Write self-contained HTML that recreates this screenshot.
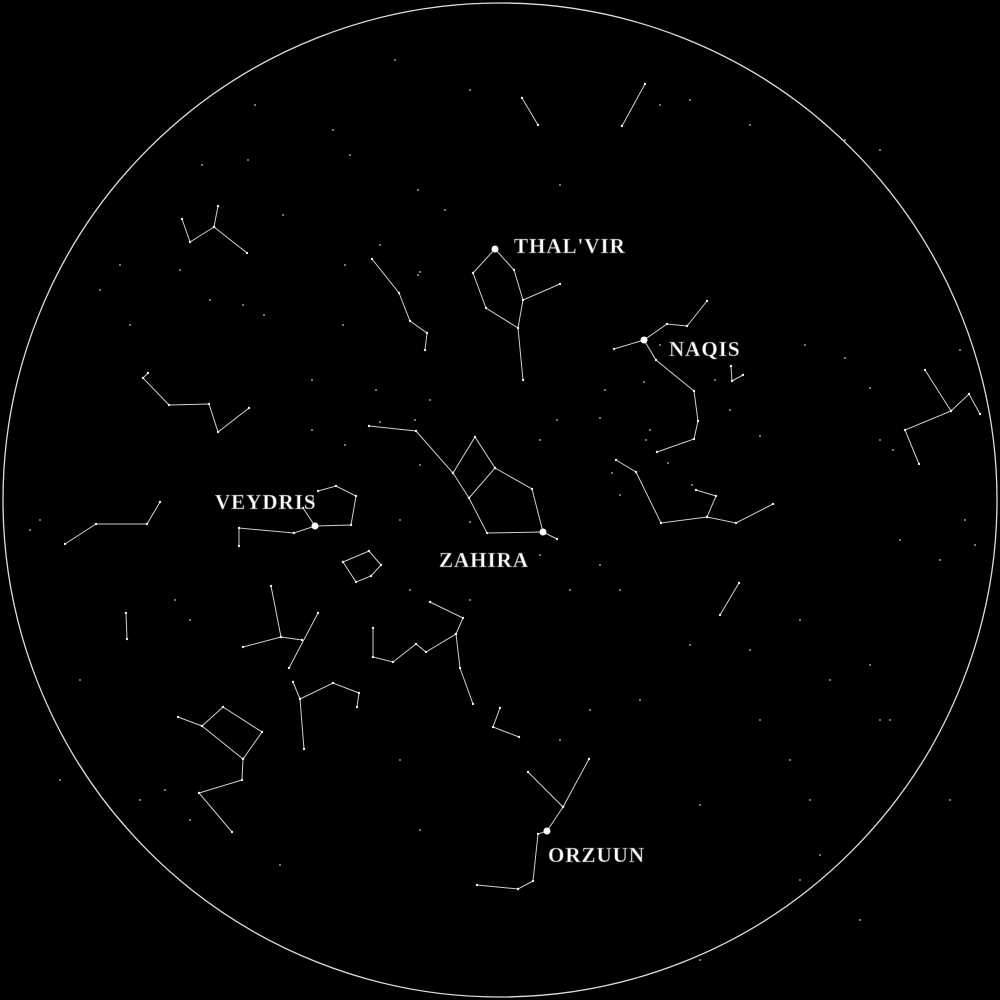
<!DOCTYPE html>
<html><head><meta charset="utf-8"><style>
html,body{margin:0;padding:0;background:#000;width:1000px;height:1000px;overflow:hidden}
svg{display:block}
.lbl{font-family:"Liberation Serif",serif;font-size:21px;font-weight:bold;fill:#fff;stroke:#555;stroke-width:0.6px;letter-spacing:1px}
</style></head><body>
<svg id="chart" width="1000" height="1000" viewBox="0 0 1000 1000">
<rect width="1000" height="1000" fill="#000"/>
<circle cx="500" cy="500" r="497" fill="none" stroke="#ddd" stroke-width="1.3"/>
<g id="lines"></g>
<g id="stars"></g>
<g id="bright"></g>
<g id="labels"></g>
</svg>
<script>
const constellationLines = [
 [[182,219],[190,242],[214,227],[218,206]],
 [[214,227],[247,253]],
 [[372,259],[399,293],[410,321],[427,333],[425,350]],
 [[148,373],[143,378],[169,405],[209,404],[218,432],[249,408]],
 [[160,502],[147,524],[96,524],[65,544]],
 [[239,546],[239,528],[294,533],[315,526],[351,525],[356,496],[336,486],[318,491]],
 [[315,526],[303,508]],
 [[343,562],[369,551],[381,565],[371,576],[356,582],[343,562]],
 [[495,249],[473,273],[486,308],[518,328],[523,380]],
 [[495,249],[514,270],[523,300],[518,328]],
 [[523,300],[560,284]],
 [[614,349],[644,340],[667,324],[687,326],[707,301]],
 [[644,340],[656,360],[694,391],[698,421],[694,439],[657,452]],
 [[731,366],[732,381],[743,375]],
 [[557,539],[543,532],[487,533],[469,498],[453,473],[416,431],[369,426]],
 [[453,473],[475,437],[495,468],[469,498]],
 [[495,468],[532,489],[543,532]],
 [[616,460],[636,472],[661,523],[707,517],[736,523],[773,504]],
 [[696,490],[716,496],[707,517]],
 [[739,583],[720,615]],
 [[522,98],[538,125]],
 [[645,84],[622,126]],
 [[925,370],[951,411],[905,430],[919,464]],
 [[951,411],[969,394],[980,414]],
 [[126,613],[127,639]],
 [[271,586],[281,637],[243,647]],
 [[281,637],[302,640]],
 [[318,613],[289,668]],
 [[293,682],[300,699],[304,749]],
 [[300,699],[333,683],[359,693],[357,707]],
 [[178,717],[202,726],[223,707],[262,732],[243,759],[202,726]],
 [[243,759],[242,780],[199,793],[232,832]],
 [[373,628],[373,657],[393,662],[416,644],[426,652],[456,634],[463,618],[430,602]],
 [[456,634],[460,668],[473,704]],
 [[500,708],[493,727],[519,737]],
 [[528,772],[563,807],[589,759]],
 [[563,807],[547,831],[538,834],[533,881],[518,889],[477,885]]
];
const starX = [202,248,333,350,418,445,283,243,264,343,345,418,312,376,380,420,313,312,345,380,415,430,540,557,600,605,612,620,644,650,646,660,668,692,715,730,760,805,845,870,880,893,965,900,940,975,960,40,30,100,120,130,180,210,175,190,400,420,470,460,410,470,540,570,600,620,690,750,800,830,870,880,890,930,950,760,790,810,820,700,640,590,560,400,420,280,190,165,140,60,80,750,660,690,880,845,560,470,395,255,700,800,860];
const starY = [165,160,130,155,190,210,215,305,315,325,265,275,380,390,245,272,500,430,445,422,420,400,440,420,418,390,473,495,382,430,440,345,463,485,380,410,436,345,358,388,440,450,520,540,560,545,350,520,530,290,265,325,270,300,600,620,520,465,522,555,590,600,555,590,565,590,645,650,620,680,665,720,720,750,800,720,760,800,855,805,700,710,740,760,830,865,820,790,800,780,680,125,105,100,150,140,185,90,60,105,960,880,920];
const brightStars = [[495,249],[644,340],[315,526],[543,532],[547,831]];
const labelTexts = ["THAL'VIR","NAQIS","VEYDRIS","ZAHIRA","ORZUUN"];
const labelX = [514,669,215,439,548];
const labelY = [253,356,509,567,862];
const NS="http://www.w3.org/2000/svg";
const lg=document.getElementById('lines');
constellationLines.forEach((pts,i)=>{
  const p=document.createElementNS(NS,'polyline');
  p.setAttribute('points',pts.map(q=>q.join(',')).join(' '));
  p.setAttribute('fill','none');p.setAttribute('stroke','#cfcfcf');p.setAttribute('stroke-width','1');
  
  
  lg.appendChild(p);
  pts.forEach(q=>{const c=document.createElementNS(NS,'circle');c.setAttribute('cx',q[0]);c.setAttribute('cy',q[1]);c.setAttribute('r','1.2');c.setAttribute('fill','#eee');
  
  
  lg.appendChild(c);});
});
const sg=document.getElementById('stars');
starX.forEach((x,i)=>{const c=document.createElementNS(NS,'circle');c.setAttribute('cx',x);c.setAttribute('cy',starY[i]);c.setAttribute('r','0.9');c.setAttribute('fill','#ccc');


sg.appendChild(c);});
const bg=document.getElementById('bright');
brightStars.forEach(s=>{const c=document.createElementNS(NS,'circle');c.setAttribute('cx',s[0]);c.setAttribute('cy',s[1]);c.setAttribute('r','3.5');c.setAttribute('fill','#fff');


bg.appendChild(c);});
const tg=document.getElementById('labels');
labelTexts.forEach((t,i)=>{const e=document.createElementNS(NS,'text');e.setAttribute('x',labelX[i]);e.setAttribute('y',labelY[i]);e.setAttribute('class','lbl');e.textContent=t;


tg.appendChild(e);});
</script>
</body></html>
